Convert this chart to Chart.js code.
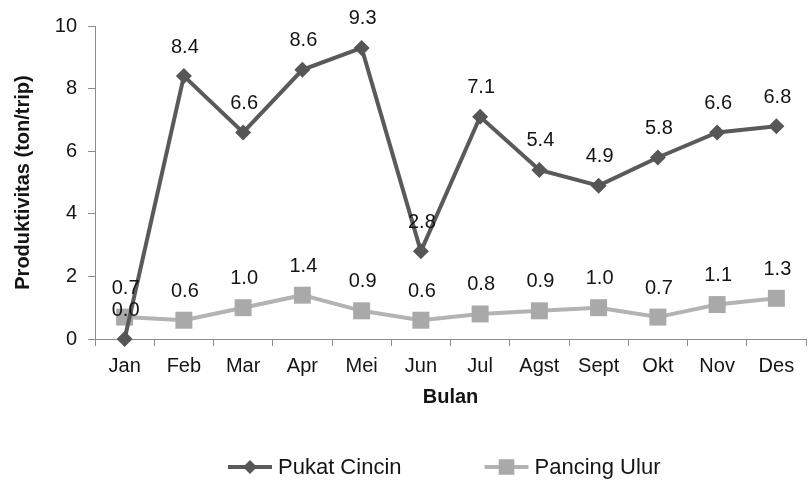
<!DOCTYPE html>
<html>
<head>
<meta charset="utf-8">
<script src="https://cdn.jsdelivr.net/npm/chart.js@4/dist/chart.umd.min.js"></script>
<style>
    html, body { margin: 0; padding: 0; background: #fff; overflow: hidden; }
    #wrap { width: 810px; height: 488px; overflow: hidden; }
</style>
</head>
<body>
<div id="wrap"><canvas id="chart" width="818" height="488"></canvas></div>
<script>
// Data
const months = ['Jan', 'Feb', 'Mar', 'Apr', 'Mei', 'Jun', 'Jul', 'Agst', 'Sept', 'Okt', 'Nov', 'Des'];
const pukatCincin = [0.0, 8.4, 6.6, 8.6, 9.3, 2.8, 7.1, 5.4, 4.9, 5.8, 6.6, 6.8];
const pancingUlur = [0.7, 0.6, 1.0, 1.4, 0.9, 0.6, 0.8, 0.9, 1.0, 0.7, 1.1, 1.3];
const yTicks = [0, 2, 4, 6, 8, 10];

const FONT = "'Liberation Sans', Arial, sans-serif";
const AXIS_COLOR = '#8c8c8c';
const TEXT_COLOR = '#141414';

// Value labels above each point
const pointLabels = {
    id: 'pointLabels',
    afterDatasetsDraw(chart) {
        const ctx = chart.ctx;
        ctx.save();
        ctx.font = '20px ' + FONT;
        ctx.fillStyle = TEXT_COLOR;
        ctx.textAlign = 'center';
        ctx.textBaseline = 'middle';
        chart.data.datasets.forEach((ds, i) => {
            chart.getDatasetMeta(i).data.forEach((pt, j) => {
                ctx.fillText(ds.data[j].toFixed(1), pt.x + 1, pt.y - 29);
            });
        });
        ctx.restore();
    }
};

// Excel-like legend: line with marker, then label
const lineLegend = {
    id: 'lineLegend',
    afterDraw(chart) {
        const ctx = chart.ctx;
        const y = 467;
        const lineLen = 44;
        const gapText = 6;
        const gapItem = 83;
        ctx.save();
        ctx.font = '22px ' + FONT;
        let x = chart.chartArea.left + 133;
        chart.data.datasets.forEach(ds => {
            ctx.strokeStyle = ds.borderColor;
            ctx.lineWidth = ds.borderWidth;
            ctx.beginPath();
            ctx.moveTo(x, y);
            ctx.lineTo(x + lineLen, y);
            ctx.stroke();
            ctx.fillStyle = ds.pointBackgroundColor;
            ctx.strokeStyle = ds.pointBackgroundColor;
            Chart.helpers.drawPoint(ctx, {
                pointStyle: ds.pointStyle,
                radius: ds.pointStyle === 'rect' ? 11 : 7,
                borderWidth: 0,
                rotation: 0
            }, x + lineLen / 2, y);
            ctx.fillStyle = TEXT_COLOR;
            ctx.textAlign = 'left';
            ctx.textBaseline = 'middle';
            ctx.fillText(ds.label, x + lineLen + gapText, y + 1);
            x += lineLen + gapText + ctx.measureText(ds.label).width + gapItem;
        });
        ctx.restore();
    }
};

new Chart(document.getElementById('chart'), {
    type: 'line',
    data: {
        labels: months,
        datasets: [{
            label: 'Pukat Cincin',
            data: pukatCincin,
            borderColor: '#5a5a5a',
            borderWidth: 4,
            pointStyle: 'rectRot',
            pointRadius: 8,
            pointHoverRadius: 8,
            pointBackgroundColor: '#565656',
            pointBorderColor: '#565656',
            pointBorderWidth: 0,
            tension: 0,
            clip: false
        }, {
            label: 'Pancing Ulur',
            data: pancingUlur,
            borderColor: '#b3b3b3',
            borderWidth: 4,
            pointStyle: 'rect',
            pointRadius: 12,
            pointHoverRadius: 12,
            pointBackgroundColor: '#a9a9a9',
            pointBorderColor: '#a9a9a9',
            pointBorderWidth: 0,
            tension: 0,
            clip: false
        }]
    },
    options: {
        responsive: false,
        animation: false,
        layout: {
            padding: { left: 0, right: 1, top: 26, bottom: 79 }
        },
        plugins: {
            legend: { display: false },
            tooltip: { enabled: false }
        },
        scales: {
            x: {
                offset: true,
                grid: {
                    offset: true,
                    drawOnChartArea: false,
                    drawTicks: true,
                    tickLength: 7,
                    color: AXIS_COLOR
                },
                border: { color: AXIS_COLOR, width: 1 },
                ticks: {
                    color: TEXT_COLOR,
                    font: { family: FONT, size: 20 },
                    padding: 8,
                    maxRotation: 0
                },
                title: {
                    display: true,
                    text: 'Bulan',
                    color: TEXT_COLOR,
                    font: { family: FONT, size: 20, weight: 'bold' },
                    padding: { top: 0, bottom: 0 }
                },
                afterFit(scale) { scale.height = 70; }
            },
            y: {
                min: 0,
                max: 10,
                afterBuildTicks(scale) { scale.ticks = yTicks.map(v => ({ value: v })); },
                grid: {
                    drawOnChartArea: false,
                    drawTicks: true,
                    tickLength: 7,
                    color: AXIS_COLOR
                },
                border: { color: AXIS_COLOR, width: 1 },
                ticks: {
                    color: TEXT_COLOR,
                    font: { family: FONT, size: 20 },
                    padding: 11
                },
                title: {
                    display: true,
                    text: 'Produktivitas (ton/trip)',
                    color: TEXT_COLOR,
                    font: { family: FONT, size: 20, weight: 'bold' },
                    padding: { top: 11, bottom: 0 }
                },
                afterFit(scale) { scale.width = 95; }
            }
        }
    },
    plugins: [pointLabels, lineLegend]
});
</script>
</body>
</html>
